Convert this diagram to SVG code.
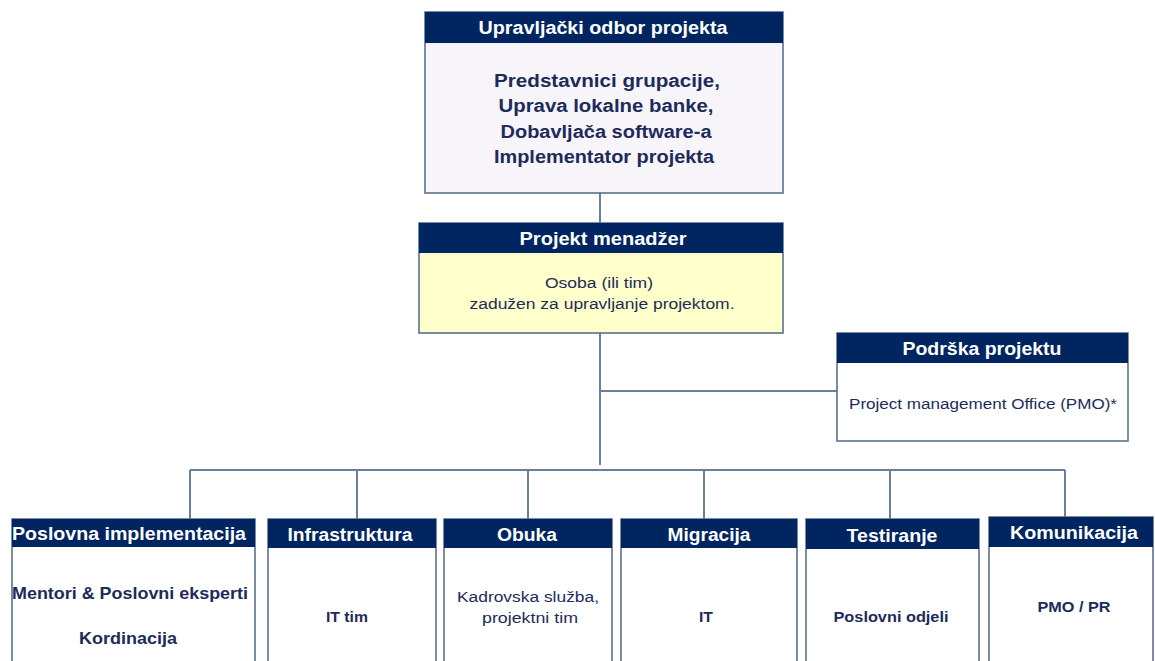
<svg xmlns="http://www.w3.org/2000/svg" width="1155" height="661" viewBox="0 0 1155 661">
  <style>
    .box { fill: #ffffff; stroke: #5b7090; stroke-width: 1.6; }
    .hdr { fill: #002561; }
    .ht { font-family: "Liberation Sans", Arial, sans-serif; font-weight: bold; font-size: 17.5px; fill: #ffffff; text-anchor: middle; }
    .bt { font-family: "Liberation Sans", Arial, sans-serif; font-size: 15.5px; fill: #1d2b5a; text-anchor: middle; }
    .bb { font-weight: bold; }
    .big { font-size: 18px; }
    .mid { font-size: 16.5px; }
    .conn { fill: none; stroke: #6a7f9e; stroke-width: 2; }
  </style>

  <!-- connectors -->
  <g id="connectors" class="conn">
    <path d="M600 193 V223"/>
    <path d="M600 333 V465"/>
    <path d="M600 391 H837"/>
    <path d="M190 470 H1065"/>
    <path d="M190 470 V519"/>
    <path d="M357 470 V519"/>
    <path d="M528 470 V519"/>
    <path d="M704 470 V519"/>
    <path d="M890 470 V519"/>
    <path d="M1065 470 V517"/>
  </g>

  <!-- steering committee -->
  <g id="upravljacki-odbor">
    <rect class="box" x="425" y="12" width="358" height="181" style="fill:#f7f5fa"/>
    <rect class="hdr" x="425" y="12" width="358" height="31"/>
    <text class="ht" x="603" y="34" textLength="249" lengthAdjust="spacingAndGlyphs">Upravljački odbor projekta</text>
    <text class="bt bb big" x="607" y="87" textLength="226" lengthAdjust="spacingAndGlyphs">Predstavnici grupacije,</text>
    <text class="bt bb big" x="606" y="112" textLength="215" lengthAdjust="spacingAndGlyphs">Uprava lokalne banke,</text>
    <text class="bt bb big" x="606" y="138" textLength="211" lengthAdjust="spacingAndGlyphs">Dobavljača software-a</text>
    <text class="bt bb big" x="604" y="163" textLength="220" lengthAdjust="spacingAndGlyphs">Implementator projekta</text>
  </g>

  <!-- project manager -->
  <g id="projekt-menadzer">
    <rect class="box" x="419" y="223" width="364" height="110" style="fill:#ffffcc"/>
    <rect class="hdr" x="419" y="223" width="364" height="30"/>
    <text class="ht" x="603" y="245" textLength="167" lengthAdjust="spacingAndGlyphs">Projekt menadžer</text>
    <text class="bt" x="599" y="288" textLength="108" lengthAdjust="spacingAndGlyphs">Osoba (ili tim)</text>
    <text class="bt" x="602" y="309" textLength="265" lengthAdjust="spacingAndGlyphs">zadužen za upravljanje projektom.</text>
  </g>

  <!-- project support -->
  <g id="podrska-projektu">
    <rect class="box" x="837" y="333" width="291" height="108"/>
    <rect class="hdr" x="837" y="333" width="291" height="30"/>
    <text class="ht" x="982" y="355" textLength="159" lengthAdjust="spacingAndGlyphs">Podrška projektu</text>
    <text class="bt" x="983" y="409" textLength="268" lengthAdjust="spacingAndGlyphs">Project management Office (PMO)*</text>
  </g>

  <!-- work streams -->
  <g id="poslovna-implementacija">
    <rect class="box" x="12" y="519" width="243" height="150"/>
    <rect class="hdr" x="12" y="519" width="243" height="28"/>
    <text class="ht big" x="129" y="540" textLength="234" lengthAdjust="spacingAndGlyphs">Poslovna implementacija</text>
    <text class="bt bb mid" x="130" y="599" textLength="236" lengthAdjust="spacingAndGlyphs">Mentori &amp; Poslovni eksperti</text>
    <text class="bt bb mid" x="128" y="644" textLength="98" lengthAdjust="spacingAndGlyphs">Kordinacija</text>
  </g>

  <g id="infrastruktura">
    <rect class="box" x="268" y="519" width="168" height="150"/>
    <rect class="hdr" x="268" y="519" width="168" height="29"/>
    <text class="ht big" x="350" y="541" textLength="125" lengthAdjust="spacingAndGlyphs">Infrastruktura</text>
    <text class="bt bb" x="347" y="622" textLength="42" lengthAdjust="spacingAndGlyphs">IT tim</text>
  </g>

  <g id="obuka">
    <rect class="box" x="444" y="519" width="168" height="150"/>
    <rect class="hdr" x="444" y="519" width="168" height="29"/>
    <text class="ht big" x="527" y="541" textLength="60" lengthAdjust="spacingAndGlyphs">Obuka</text>
    <text class="bt" x="528" y="602" textLength="142" lengthAdjust="spacingAndGlyphs">Kadrovska služba,</text>
    <text class="bt" x="530" y="623" textLength="96" lengthAdjust="spacingAndGlyphs">projektni tim</text>
  </g>

  <g id="migracija">
    <rect class="box" x="621" y="519" width="176" height="150"/>
    <rect class="hdr" x="621" y="519" width="176" height="29"/>
    <text class="ht big" x="709" y="541" textLength="83" lengthAdjust="spacingAndGlyphs">Migracija</text>
    <text class="bt bb" x="706" y="622" textLength="14" lengthAdjust="spacingAndGlyphs">IT</text>
  </g>

  <g id="testiranje">
    <rect class="box" x="806" y="519" width="173" height="150"/>
    <rect class="hdr" x="806" y="519" width="173" height="30"/>
    <text class="ht big" x="892" y="542" textLength="91" lengthAdjust="spacingAndGlyphs">Testiranje</text>
    <text class="bt bb" x="891" y="622" textLength="115" lengthAdjust="spacingAndGlyphs">Poslovni odjeli</text>
  </g>

  <g id="komunikacija">
    <rect class="box" x="989" y="517" width="164" height="150"/>
    <rect class="hdr" x="989" y="517" width="164" height="30"/>
    <text class="ht big" x="1074" y="539" textLength="128" lengthAdjust="spacingAndGlyphs">Komunikacija</text>
    <text class="bt bb" x="1074" y="612" textLength="73" lengthAdjust="spacingAndGlyphs">PMO / PR</text>
  </g>
</svg>
